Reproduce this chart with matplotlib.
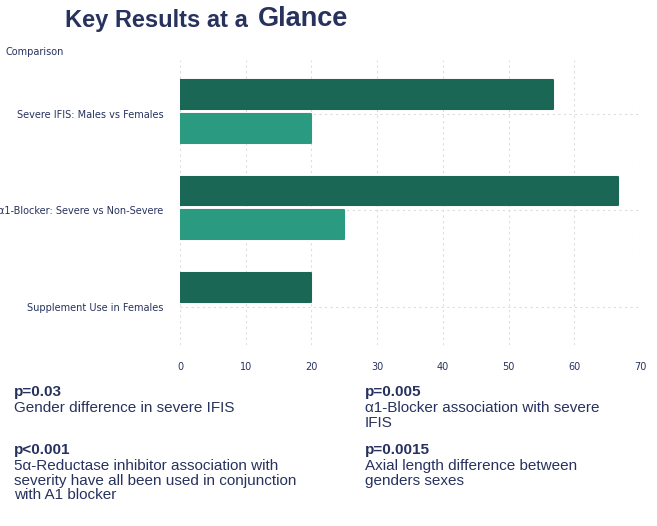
import matplotlib.pyplot as plt
import numpy as np

categories = ["Severe IFIS: Males vs Females", "α1-Blocker: Severe vs Non-Severe", "Supplement Use in Females"]
series_a = [56.7, 66.7, 20]
series_b = [20, 25, 0]
notes = [
    ("p=0.03", "Gender difference in severe IFIS"),
    ("p=0.005", "α1-Blocker association with severe\nIFIS"),
    ("p<0.001", "5α-Reductase inhibitor association with\nseverity have all been used in conjunction\nwith A1 blocker"),
    ("p=0.0015", "Axial length difference between\ngenders sexes"),
]

NAVY = "#27325e"
DARK = "#1b6756"
LIGHT = "#2a9b80"
ARIAL = ["Liberation Sans", "DejaVu Sans"]

fig = plt.figure(figsize=(6.57, 5.26), dpi=100)
ax = fig.add_axes([0.274, 0.344, 0.70, 0.542])

y = np.arange(len(categories))
ax.barh(y - 0.2, series_a, height=0.3, color=DARK, edgecolor=DARK, linewidth=1.5, joinstyle="round")
ax.barh(y + 0.15, series_b, height=0.3, color=LIGHT, edgecolor=LIGHT, linewidth=1.5, joinstyle="round")
for i, v in enumerate(series_b):
    if v == 0:
        ax.patches[len(categories) + i].set_visible(False)

ax.set_ylim(2.4, -0.56)
ax.set_xlim(0, 70)
ax.set_xticks(range(0, 71, 10))
ax.set_yticks(y)
ax.set_yticklabels(categories)
ax.tick_params(axis="both", length=0, labelsize=7, labelcolor=NAVY, pad=12)
ax.grid(True, linestyle=(0, (2, 3)), color="#dddddd", linewidth=0.8)
ax.set_axisbelow(True)
for s in ax.spines.values():
    s.set_visible(False)

fig.text(5 / 657, 1 - 52 / 526, "Comparison", fontsize=7, color=NAVY, va="center")
fig.text(65 / 657, 1 - 21 / 526, "Key Results at a", fontsize=17, fontweight="bold",
         color=NAVY, va="center", family=ARIAL)
fig.text(258 / 657, 1 - 19 / 526, "Glance", fontsize=19.5, fontweight="bold",
         color=NAVY, va="center", family=ARIAL)

pos = [(14, 392), (365, 392), (14, 450), (365, 450)]
for (px, py), (p, d) in zip(pos, notes):
    fig.text(px / 657, 1 - py / 526, p, fontsize=11, fontweight="bold", color=NAVY,
             va="center", family=ARIAL)
    fig.text(px / 657, 1 - (py + 9) / 526, d, fontsize=11, color=NAVY, va="top",
             linespacing=1.05, family=ARIAL)

fig.savefig("out.png", dpi=100)
